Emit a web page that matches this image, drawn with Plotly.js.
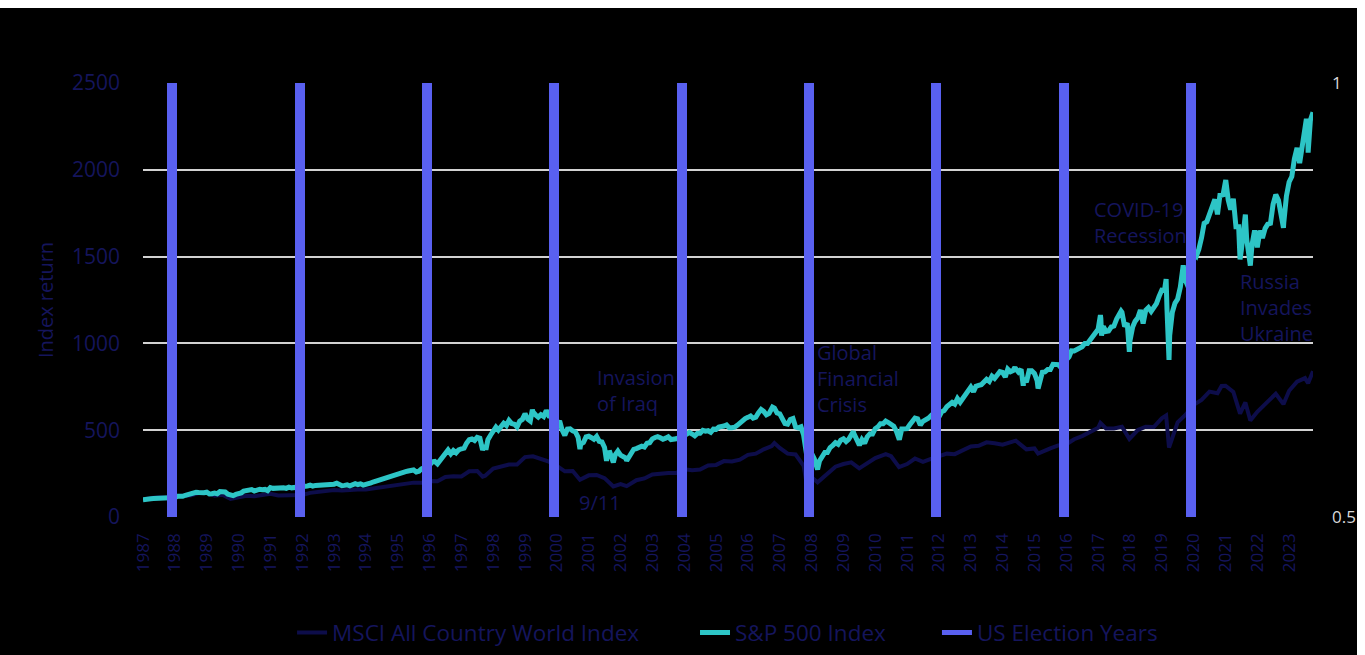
<!DOCTYPE html>
<html>
<head>
<meta charset="utf-8">
<script src="https://cdn.plot.ly/plotly-3.0.1.min.js"></script>
<style>
html,body{margin:0;padding:0;background:#ffffff;width:1365px;height:655px;overflow:hidden;}
#chart{position:absolute;left:0;top:8px;width:1357px;height:647px;}
</style>
</head>
<body>
<div id="chart"></div>
<script>
// ---------------- DATA ----------------
// X-axis tick labels (years)
const tickYears = [1987,1988,1989,1990,1991,1992,1993,1994,1995,1996,1997,1998,1999,2000,2001,2002,2003,2004,2005,2006,2007,2008,2009,2010,2011,2012,2013,2014,2015,2016,2017,2018,2019,2020,2021,2022,2023];

// US election years (bars)
const electionYears = [1988,1992,1996,2000,2004,2008,2012,2016,2020];
const electionHeights = [1,1,1,1,1,1,1,1,1];

// S&P 500 Index (index return, Dec 1987 = 100), month-end values from Dec 1987 to Sep 2024
const spxMonthly = [
100,
104,108,105,106,106,111,110,106,110,113,111,112,
120,117,119,125,130,129,140,142,141,138,140,143,
133,134,138,134,146,145,144,131,124,123,130,134,
139,149,152,152,158,150,157,160,157,159,152,169,
165,167,163,168,168,165,172,168,169,169,175,176,
178,179,183,178,182,183,181,188,186,189,187,189,
195,189,180,182,185,180,185,192,187,191,184,186,
190,197,203,208,216,220,227,227,237,235,245,249,
257,259,261,265,271,271,259,264,278,285,306,300,
318,320,306,324,343,358,386,364,383,370,387,393,
397,425,446,450,441,459,454,387,412,445,471,497,
518,501,521,540,527,556,538,534,519,552,562,595,
564,553,606,588,575,589,579,614,581,578,532,534,
553,502,470,506,508,496,490,459,421,429,461,465,
457,448,464,436,432,401,369,371,330,358,379,356,
346,340,343,371,390,394,401,408,403,425,428,450,
458,463,456,448,454,462,446,447,451,457,475,490,
478,487,478,468,482,482,499,494,497,488,506,505,
518,518,524,530,514,514,517,528,541,558,567,574,
582,569,575,600,619,608,589,597,618,627,599,594,
558,538,535,561,567,518,513,519,472,392,363,366,
334,297,323,353,372,372,400,413,428,419,443,451,
435,447,473,480,441,417,446,425,462,479,478,509,
520,537,537,552,544,534,523,493,458,507,505,509,
531,553,570,566,530,551,558,569,583,572,573,577,
606,613,635,647,660,650,682,661,681,711,731,748,
721,753,758,762,778,793,781,811,798,817,837,833,
807,852,837,844,853,835,851,798,777,842,842,827,
785,782,834,836,849,849,880,879,878,860,890,906,
922,957,956,965,976,981,1000,1000,1020,1042,1071,1082,
1143,1098,1069,1072,1095,1100,1140,1174,1179,1097,1117,1015,
1094,1127,1147,1192,1114,1191,1206,1184,1205,1229,1271,1307,
1305,1196,1046,1179,1232,1255,1324,1417,1361,1323,1466,1520,
1503,1542,1608,1692,1701,1739,1779,1830,1743,1864,1848,1929,
1827,1770,1833,1672,1672,1532,1672,1601,1451,1567,1651,1554,
1650,1607,1663,1687,1692,1801,1857,1824,1735,1697,1849,1930,
1961,2062,2126,2038,2136,2210,2235,2286,2332
];

// S&P 500 intra-month highs/lows visible in the chart
const spxExtDates = ['1990-10-11','1998-10-08','2000-03-24','2000-09-01','2001-09-21','2002-07-23','2002-10-09','2003-03-11','2007-10-09','2008-11-20','2009-03-09','2010-04-23','2010-07-02','2011-10-03','2015-05-21','2015-08-25','2016-02-11','2018-01-26','2018-02-08','2018-09-20','2018-12-24','2020-02-19','2020-03-23','2020-09-02','2022-01-03','2022-06-16','2022-08-16','2022-10-12','2023-10-27','2024-07-16','2024-08-05'];
const spxExtValues = [120,388,618,615,391,323,314,324,633,304,274,493,414,445,862,756,740,1163,1045,1186,951,1370,905,1449,1941,1484,1742,1448,1666,2293,2099];

// MSCI All Country World Index (index return, Dec 1987 = 100)
const msciDates = ['1987-12-31','1988-03-31','1988-06-30','1988-09-30','1988-12-31','1989-03-31','1989-06-30','1989-09-30','1989-12-31','1990-03-31','1990-06-30','1990-09-30','1990-12-31','1991-03-31','1991-06-30','1991-09-30','1991-12-31','1992-03-31','1992-06-30','1992-09-30','1992-12-31','1993-03-31','1993-06-30','1993-09-30','1993-12-31','1994-03-31','1994-06-30','1994-09-30','1994-12-31','1995-03-31','1995-06-30','1995-09-30','1995-12-31','1996-03-31','1996-06-30','1996-09-30','1996-12-31','1997-03-31','1997-06-30','1997-09-30','1997-12-31','1998-03-31','1998-06-30','1998-08-31','1998-09-30','1998-12-31','1999-03-31','1999-06-30','1999-09-30','1999-12-31','2000-03-31','2000-06-30','2000-09-30','2000-12-31','2001-03-31','2001-06-30','2001-09-21','2001-12-31','2002-03-31','2002-06-30','2002-09-30','2002-10-09','2002-12-31','2003-03-11','2003-06-30','2003-09-30','2003-12-31','2004-03-31','2004-06-30','2004-09-30','2004-12-31','2005-03-31','2005-06-30','2005-09-30','2005-12-31','2006-03-31','2006-06-30','2006-09-30','2006-12-31','2007-03-31','2007-06-30','2007-09-30','2007-10-31','2007-12-31','2008-03-31','2008-06-30','2008-09-30','2008-10-27','2008-12-31','2009-03-09','2009-06-30','2009-09-30','2009-12-31','2010-03-31','2010-06-30','2010-09-30','2010-12-31','2011-04-30','2011-06-30','2011-09-30','2011-12-31','2012-03-31','2012-06-30','2012-09-30','2012-12-31','2013-03-31','2013-06-30','2013-09-30','2013-12-31','2014-03-31','2014-06-30','2014-09-30','2014-12-31','2015-05-31','2015-09-30','2015-12-31','2016-02-11','2016-06-30','2016-09-30','2016-12-31','2017-03-31','2017-06-30','2017-09-30','2017-12-31','2018-01-26','2018-03-31','2018-06-30','2018-09-30','2018-12-24','2019-03-31','2019-06-30','2019-09-30','2019-12-31','2020-02-19','2020-03-23','2020-06-30','2020-09-30','2020-12-31','2021-03-31','2021-06-30','2021-09-30','2021-11-16','2021-12-31','2022-03-31','2022-06-16','2022-08-16','2022-10-12','2022-12-31','2023-03-31','2023-07-31','2023-10-27','2023-12-31','2024-03-31','2024-06-30','2024-08-05','2024-09-30'];
const msciValues = [100,110,114,112,121,125,124,138,141,122,128,104,115,122,120,127,134,124,125,126,127,139,143,150,155,153,157,159,158,164,170,178,187,193,198,198,207,206,230,235,234,263,265,232,238,279,290,302,303,345,350,334,319,294,263,265,215,240,242,224,182,176,190,178,212,222,245,251,254,254,275,270,274,297,300,322,320,330,358,365,390,408,426,398,365,360,295,215,229,200,254,290,305,315,280,313,339,362,350,287,305,337,318,335,349,365,362,387,406,410,430,425,416,440,390,395,365,395,412,419,448,466,487,514,542,510,510,520,450,501,520,518,568,585,400,545,589,646,675,722,713,755,756,720,595,660,556,606,650,710,650,727,780,800,770,840];

// Event labels
const eventTexts = ['Invasion<br>of Iraq','9/11','Global<br>Financial<br>Crisis','COVID-19<br>Recession','Russia<br>Invades<br>Ukraine'];
const eventDates = ['2002-03-15','2001-08-18','2009-02-10','2017-10-22','2022-05-22'];
const eventLevels = [726,86,795,1694,1204];

// ---------------- BUILD ----------------
function monthEnd(i){ return new Date(Date.UTC(1987, 12 + i, 0)).toISOString().slice(0,10); }
const spxPts = spxMonthly.map((v,i)=>[monthEnd(i), v])
  .concat(spxExtDates.map((d,i)=>[d, spxExtValues[i]]))
  .sort((a,b)=> a[0] < b[0] ? -1 : (a[0] > b[0] ? 1 : 0));

const NAVY = '#15155c';
const CYAN = '#2dc5c6';
const BLUE = '#5960f0';
const MSCI_COL = '#0d0d4a';
const DAY = 86400000;

const traces = [
  {type:'scatter', mode:'lines', name:'MSCI All Country World Index',
   x: msciDates, y: msciValues, line:{color:MSCI_COL, width:4}, legend:'legend', hoverinfo:'skip'},
  {type:'scatter', mode:'lines', name:'S&P 500 Index',
   x: spxPts.map(p=>p[0]), y: spxPts.map(p=>p[1]), line:{color:CYAN, width:5}, legend:'legend2', hoverinfo:'skip'},
  {type:'scatter', mode:'lines', name:'US Election Years',
   x:[null], y:[null], line:{color:BLUE, width:5}, legend:'legend3', hoverinfo:'skip'},
  {type:'bar', name:'US Election Years', showlegend:false,
   x: electionYears.map(y=>y + '-12-01'), y: electionHeights, yaxis:'y2',
   width: 115*DAY, marker:{color:BLUE, line:{width:0}}, hoverinfo:'skip'}
];

const legendCommon = {orientation:'h', y:-0.267, yanchor:'middle', xanchor:'left',
  bgcolor:'rgba(0,0,0,0)', font:{size:22.5, color:NAVY, family:'Open Sans, sans-serif'}};

const layout = {
  width:1357, height:647,
  paper_bgcolor:'#000000', plot_bgcolor:'#000000',
  margin:{l:143, r:44, t:75, b:138, autoexpand:false},
  font:{family:'Open Sans, sans-serif', color:NAVY},
  showlegend:true,
  xaxis:{type:'date', range:['1987-12-31','2024-09-30'],
    tickvals: tickYears.map(y=>y + '-12-31'), ticktext: tickYears.map(String),
    tickangle:-90, tickfont:{size:17, color:NAVY}, showgrid:false, zeroline:false,
    showline:false, ticks:'', ticklabelstandoff:12, automargin:false, fixedrange:true},
  yaxis:{range:[0,2500], tickvals:[0,500,1000,1500,2000,2500],
    showgrid:true, gridcolor:'#d2d2d2', gridwidth:2,
    zeroline:true, zerolinecolor:'#000000', zerolinewidth:3, showline:false, ticks:'',
    tickfont:{size:21, color:NAVY}, ticklabelstandoff:22, automargin:false,
    title:{text:'Index return', font:{size:20, color:NAVY}, standoff:12}},
  yaxis2:{overlaying:'y', side:'right', range:[0.5,1], tickvals:[0.5,1], ticktext:['0.5','1'],
    showgrid:false, zeroline:false, showline:false, ticks:'', automargin:false,
    tickfont:{size:17, color:'#d9d9d9'}, ticklabelstandoff:18},
  bargap:0,
  legend: Object.assign({x:0.1274}, legendCommon),
  legend2: Object.assign({x:0.4718}, legendCommon),
  legend3: Object.assign({x:0.6786}, legendCommon),
  annotations: eventTexts.map((t,i)=>({
    x: eventDates[i], y: eventLevels[i], xref:'x', yref:'y', text:t, showarrow:false,
    xanchor:'left', yanchor:'middle', align:'left',
    font:{size:20, color:NAVY, family:'Open Sans, sans-serif'}
  }))
};

Plotly.newPlot('chart', traces, layout, {displayModeBar:false, staticPlot:true});
</script>
</body>
</html>
